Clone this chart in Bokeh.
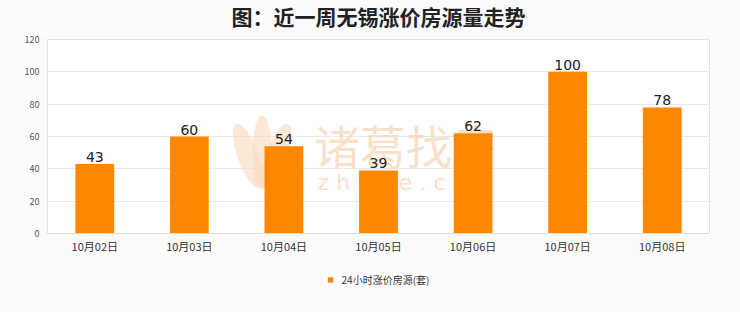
from bokeh.plotting import figure
from bokeh.layouts import column
from bokeh.models import (ColumnDataSource, FactorRange, Range1d, FixedTicker,
                          Legend, LegendItem, Label)
from bokeh.core.properties import value
from bokeh.embed import file_html
from bokeh.resources import INLINE

# Daily count of listings with a price increase, Wuxi, last week
dates = ["10月02日", "10月03日", "10月04日", "10月05日", "10月06日", "10月07日", "10月08日"]
counts = [43, 60, 54, 39, 62, 100, 78]
y_ticks = [0, 20, 40, 60, 80, 100, 120]
series_name = "24小时涨价房源(套)"
title_text = "图：近一周无锡涨价房源量走势"

CJK = "Noto Sans CJK SC"
BAR = "#FF8800"
MARK = "#f8d8bc"
PAGE = "#fbfbfb"


def strip(height):
    """A bare full-width figure used for the heading and legend rows."""
    f = figure(width=740, height=height, output_backend="svg", toolbar_location=None,
               x_range=Range1d(0, 1), y_range=Range1d(0, 1),
               min_border_left=0, min_border_right=0, min_border_top=0, min_border_bottom=0)
    f.axis.visible = False
    f.grid.grid_line_color = None
    f.outline_line_color = None
    f.background_fill_color = PAGE
    f.border_fill_color = PAGE
    return f


# heading row
head = strip(33)
head.add_layout(Label(x=0.5, y=0.52, text=title_text, text_font=CJK, text_font_size="21px",
                      text_font_style="bold", text_color="#222222",
                      text_align="center", text_baseline="middle"))

# main bar chart
src = ColumnDataSource(dict(date=dates, count=counts, label=[str(c) for c in counts]))

p = figure(width=740, height=232, output_backend="svg", toolbar_location=None,
           x_range=FactorRange(*dates, range_padding=0), y_range=Range1d(0, 120),
           min_border_left=47, min_border_right=31, min_border_top=6, min_border_bottom=32)
p.background_fill_color = "white"
p.border_fill_color = PAGE
p.outline_line_color = "#e3e3e3"

# watermark behind the bars: leaf logo, brand name and domain
p.ellipse(x=[2.12, 2.27, 2.42], y=[48, 50, 48], width=[0.22, 0.2, 0.22], height=[42, 46, 42],
          angle=[0.35, 0.0, -0.35], fill_color=MARK, fill_alpha=0.6, line_color=None)
p.text(x=[3.79], y=[55.5], text=["诸葛找房"], text_font=value(CJK), text_font_size="46px",
       text_color=MARK, text_alpha=0.8, text_align="center", text_baseline="middle")
p.text(x=[3.79], y=[31.5], text=["z h u g e . c o m"], text_font=value("DejaVu Sans"),
       text_font_size="22px", text_color=MARK, text_alpha=0.8,
       text_align="center", text_baseline="middle")

bars = p.vbar(x="date", top="count", width=0.41, source=src, color=BAR, line_color=None)
p.text(x="date", y="count", text="label", source=src, text_font=value("DejaVu Sans"),
       text_font_size="14px", text_color="#222222", text_align="center",
       text_baseline="bottom", y_offset=-2)

p.yaxis.ticker = FixedTicker(ticks=y_ticks)
p.yaxis.axis_line_color = None
p.yaxis.major_tick_line_color = None
p.yaxis.minor_tick_line_color = None
p.yaxis.major_tick_out = 0
p.yaxis.major_tick_in = 0
p.yaxis.major_label_text_font = CJK
p.yaxis.major_label_text_font_size = "9px"
p.yaxis.major_label_text_color = "#555555"
p.yaxis.major_label_standoff = 8

p.xaxis.axis_line_color = "#dddddd"
p.xaxis.major_tick_line_color = None
p.xaxis.minor_tick_line_color = None
p.xaxis.major_tick_out = 0
p.xaxis.major_tick_in = 0
p.xaxis.major_label_text_font = CJK
p.xaxis.major_label_text_font_size = "11px"
p.xaxis.major_label_text_color = "#333333"
p.xaxis.major_label_standoff = 4

p.xgrid.grid_line_color = None
p.ygrid.grid_line_color = "#e8e8e8"
p.ygrid.ticker = FixedTicker(ticks=y_ticks)

# legend row; the swatch renderer sits outside the strip's visible range
leg = strip(47)
swatch = leg.vbar(x=[5], top=[5], bottom=[4], width=0.1, color=BAR, line_color=None)
legend = Legend(items=[LegendItem(label=series_name, renderers=[swatch])],
                location="top_center", orientation="horizontal",
                label_text_font=CJK, label_text_font_size="10px", label_text_color="#333333",
                glyph_width=7, glyph_height=7, label_standoff=8, label_height=12,
                background_fill_color="white", background_fill_alpha=1,
                border_line_color=None, padding=4, margin=7)
leg.add_layout(legend)

open("out.html", "w").write(file_html(column(head, p, leg, spacing=0), INLINE))
